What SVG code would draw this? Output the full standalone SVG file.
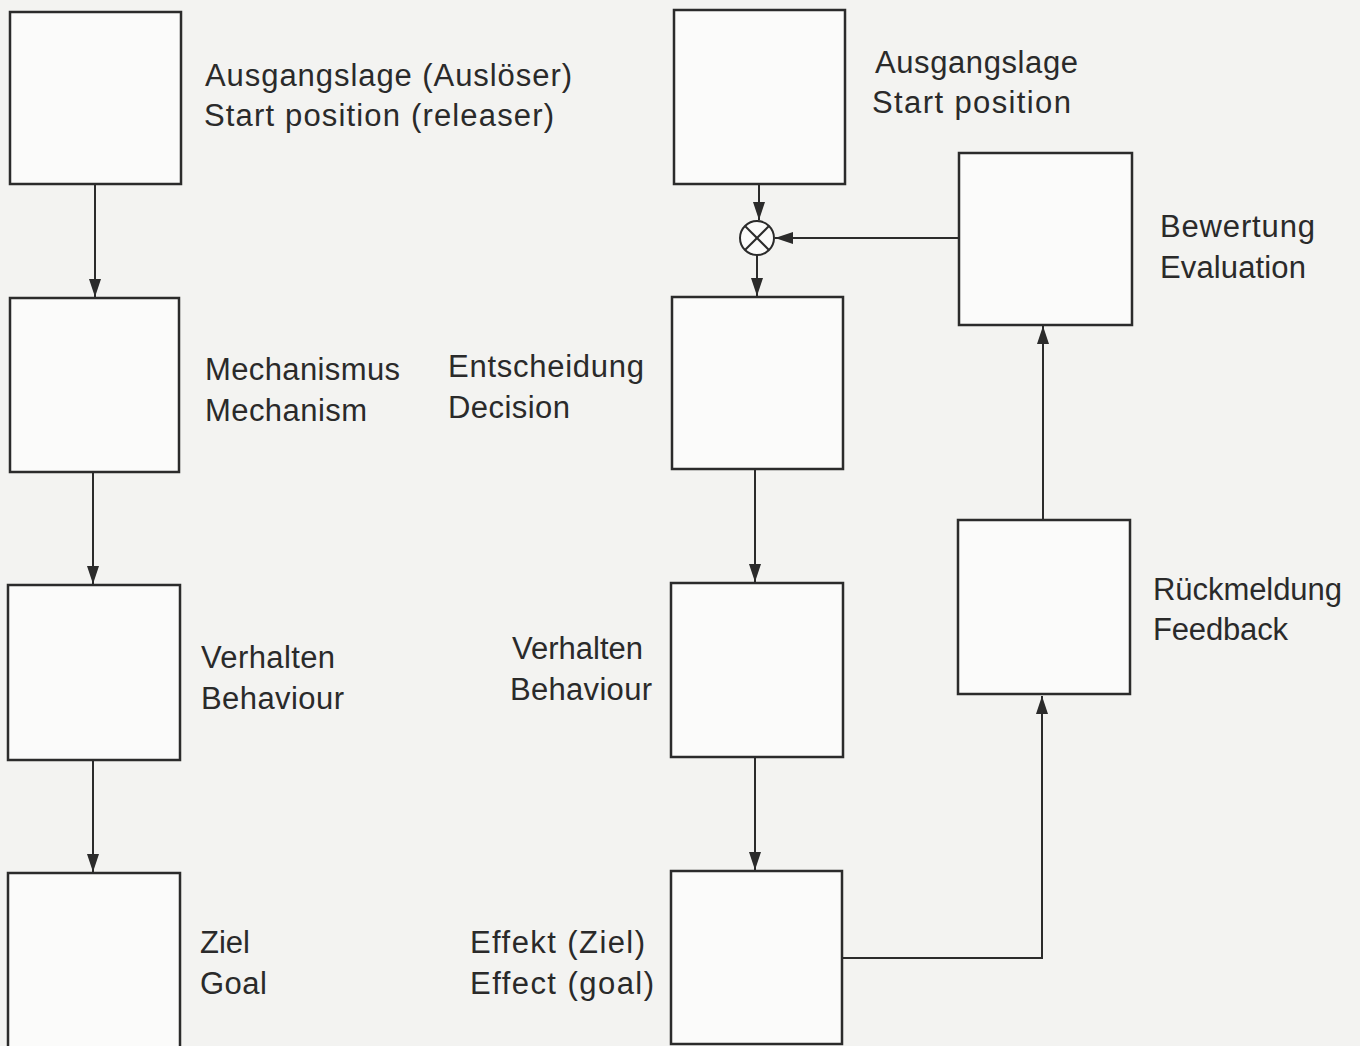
<svg xmlns="http://www.w3.org/2000/svg" width="1360" height="1046" viewBox="0 0 1360 1046">
<defs>
<marker id="ah" viewBox="0 0 18 24" refX="18" refY="12" markerWidth="18" markerHeight="24" markerUnits="userSpaceOnUse" orient="auto">
<path d="M0,6 L18,12 L0,18 Z" fill="#2b2b2b"/>
</marker>
<style>
.box{fill:#fbfbfa;stroke:#2b2b2b;stroke-width:2.5}
.ln{fill:none;stroke:#2b2b2b;stroke-width:2}
.t{font-family:"Liberation Sans",Arial,sans-serif;font-size:31px;fill:#2a2a2a}
</style>
</defs>
<rect width="1360" height="1046" fill="#f3f3f1"/>
<g id="connectors">
<line class="ln" x1="95" y1="184" x2="95" y2="297" marker-end="url(#ah)"/>
<line class="ln" x1="93" y1="472" x2="93" y2="584" marker-end="url(#ah)"/>
<line class="ln" x1="93" y1="760" x2="93" y2="872" marker-end="url(#ah)"/>
<line class="ln" x1="759" y1="184" x2="759" y2="220" marker-end="url(#ah)"/>
<line class="ln" x1="757" y1="255" x2="757" y2="296" marker-end="url(#ah)"/>
<line class="ln" x1="959" y1="238" x2="775" y2="238" marker-end="url(#ah)"/>
<line class="ln" x1="755" y1="469" x2="755" y2="582" marker-end="url(#ah)"/>
<line class="ln" x1="755" y1="757" x2="755" y2="870" marker-end="url(#ah)"/>
<polyline class="ln" points="842,958 1042,958 1042,696" marker-end="url(#ah)"/>
<line class="ln" x1="1043" y1="520" x2="1043" y2="326" marker-end="url(#ah)"/>
</g>
<g id="n-start-left">
<rect class="box" x="10" y="12" width="171" height="172"/>
<text class="t" x="205" y="86" textLength="367" lengthAdjust="spacing">Ausgangslage (Auslöser)</text>
<text class="t" x="204" y="126" textLength="350" lengthAdjust="spacing">Start position (releaser)</text>
</g>
<g id="n-mechanism">
<rect class="box" x="10" y="298" width="169" height="174"/>
<text class="t" x="205" y="380" textLength="195" lengthAdjust="spacing">Mechanismus</text>
<text class="t" x="205" y="421" textLength="162" lengthAdjust="spacing">Mechanism</text>
</g>
<g id="n-behaviour-left">
<rect class="box" x="8" y="585" width="172" height="175"/>
<text class="t" x="201" y="668" textLength="134" lengthAdjust="spacing">Verhalten</text>
<text class="t" x="201" y="709" textLength="143" lengthAdjust="spacing">Behaviour</text>
</g>
<g id="n-goal">
<rect class="box" x="8" y="873" width="172" height="180"/>
<text class="t" x="200" y="953" textLength="50" lengthAdjust="spacing">Ziel</text>
<text class="t" x="200" y="994" textLength="67" lengthAdjust="spacing">Goal</text>
</g>
<g id="n-start-right">
<rect class="box" x="674" y="10" width="171" height="174"/>
<text class="t" x="875" y="73" textLength="203" lengthAdjust="spacing">Ausgangslage</text>
<text class="t" x="872" y="113" textLength="199" lengthAdjust="spacing">Start position</text>
</g>
<g id="n-comparator">
<circle cx="757" cy="238" r="17" fill="#fbfbfa" stroke="#2b2b2b" stroke-width="2"/>
<line class="ln" x1="745" y1="226" x2="769" y2="250"/>
<line class="ln" x1="769" y1="226" x2="745" y2="250"/>
</g>
<g id="n-decision">
<rect class="box" x="672" y="297" width="171" height="172"/>
<text class="t" x="448" y="377" textLength="196" lengthAdjust="spacing">Entscheidung</text>
<text class="t" x="448" y="418" textLength="122" lengthAdjust="spacing">Decision</text>
</g>
<g id="n-behaviour-right">
<rect class="box" x="671" y="583" width="172" height="174"/>
<text class="t" x="512" y="659" textLength="131" lengthAdjust="spacing">Verhalten</text>
<text class="t" x="510" y="700" textLength="142" lengthAdjust="spacing">Behaviour</text>
</g>
<g id="n-effect">
<rect class="box" x="671" y="871" width="171" height="173"/>
<text class="t" x="470" y="953" textLength="175" lengthAdjust="spacing">Effekt (Ziel)</text>
<text class="t" x="470" y="994" textLength="184" lengthAdjust="spacing">Effect (goal)</text>
</g>
<g id="n-evaluation">
<rect class="box" x="959" y="153" width="173" height="172"/>
<text class="t" x="1160" y="237" textLength="155" lengthAdjust="spacing">Bewertung</text>
<text class="t" x="1160" y="278" textLength="146" lengthAdjust="spacing">Evaluation</text>
</g>
<g id="n-feedback">
<rect class="box" x="958" y="520" width="172" height="174"/>
<text class="t" x="1153" y="600" textLength="189" lengthAdjust="spacing">Rückmeldung</text>
<text class="t" x="1153" y="640" textLength="135" lengthAdjust="spacing">Feedback</text>
</g>
</svg>
